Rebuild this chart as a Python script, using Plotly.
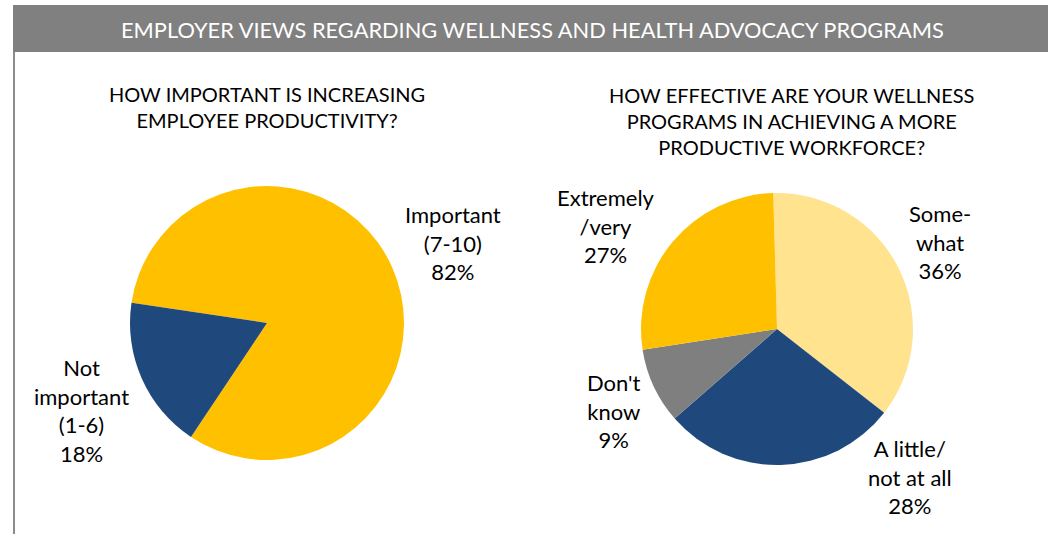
import plotly.graph_objects as go

W, H = 1048, 534

# Left pie: importance of increasing employee productivity
imp_labels = ["Important<br>(7-10)", "Not<br>important<br>(1-6)"]
imp_values = [82, 18]
imp_colors = ["#FFC000", "#1F497D"]

# Right pie: effectiveness of wellness programs
eff_labels = ["Some-<br>what", "A little/<br>not at all", "Don't<br>know", "Extremely<br>/very"]
eff_values = [36, 28, 9, 27]
eff_colors = ["#FFE38F", "#1F497D", "#7F7F7F", "#FFC000"]

header = "EMPLOYER VIEWS REGARDING WELLNESS AND HEALTH ADVOCACY PROGRAMS"
q_left = "HOW IMPORTANT IS INCREASING<br>EMPLOYEE PRODUCTIVITY?"
q_right = "HOW EFFECTIVE ARE YOUR WELLNESS<br>PROGRAMS IN ACHIEVING A MORE<br>PRODUCTIVE WORKFORCE?"

FONT = "Lato"


def px(x):
    return x / W


def py(y):
    return 1 - y / H


def dom(cx, cy, r):
    return dict(x=[px(cx - r), px(cx + r)], y=[py(cy + r), py(cy - r)])


fig = go.Figure()
fig.add_trace(go.Pie(
    labels=imp_labels, values=imp_values, sort=False, direction="clockwise",
    rotation=278.5, marker=dict(colors=imp_colors), textinfo="none",
    hoverinfo="label+percent", domain=dom(267, 323, 137), showlegend=False,
))
fig.add_trace(go.Pie(
    labels=eff_labels, values=eff_values, sort=False, direction="clockwise",
    rotation=-1.6, marker=dict(colors=eff_colors), textinfo="none",
    hoverinfo="label+percent", domain=dom(777, 329, 136), showlegend=False,
))

# slice label centres (pixels)
imp_pos = [(453, 243), (81, 410)]
eff_pos = [(940, 242), (910, 477), (614, 411), (606, 226)]

annotations = []
for lab, val, (x, y) in list(zip(imp_labels, imp_values, imp_pos)) + list(zip(eff_labels, eff_values, eff_pos)):
    annotations.append(dict(
        x=px(x), y=py(y), xref="paper", yref="paper", showarrow=False,
        text=f"{lab}<br>{val}%", align="center", xanchor="center", yanchor="middle",
        font=dict(family=FONT, size=22, color="#000000"),
    ))

annotations.append(dict(
    x=px(532), y=py(29), xref="paper", yref="paper", showarrow=False,
    text=header, xanchor="center", yanchor="middle",
    font=dict(family=FONT, size=21.8, color="#FFFFFF"),
))
annotations.append(dict(
    x=px(267), y=py(107), xref="paper", yref="paper", showarrow=False,
    text=q_left, xanchor="center", yanchor="middle", align="center",
    font=dict(family=FONT, size=20, color="#000000"),
))
annotations.append(dict(
    x=px(791), y=py(121), xref="paper", yref="paper", showarrow=False,
    text=q_right, xanchor="center", yanchor="middle", align="center",
    font=dict(family=FONT, size=20, color="#000000"),
))

shapes = [
    dict(type="rect", xref="paper", yref="paper", x0=px(13), x1=1.0,
         y0=py(52), y1=py(5), fillcolor="#808080", line=dict(width=0), layer="below"),
    dict(type="line", xref="paper", yref="paper", x0=px(14), x1=px(14),
         y0=py(52), y1=0, line=dict(color="#8C8C8C", width=2)),
]

fig.update_layout(
    width=W, height=H, margin=dict(l=0, r=0, t=0, b=0),
    paper_bgcolor="#FFFFFF", plot_bgcolor="#FFFFFF",
    annotations=annotations, shapes=shapes,
)

fig.write_html("out.html")
